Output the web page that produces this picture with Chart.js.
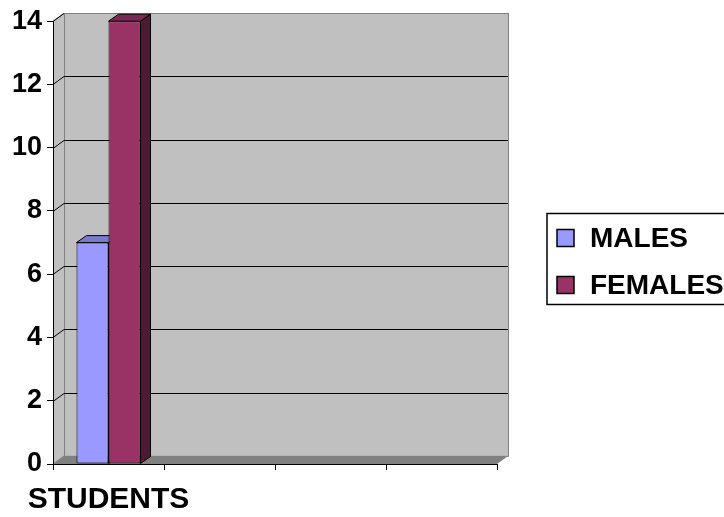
<!DOCTYPE html>
<html>
<head>
<meta charset="utf-8">
<script src="https://cdn.jsdelivr.net/npm/chart.js@4.4.1/dist/chart.umd.min.js"></script>
<style>
  html, body { margin: 0; padding: 0; background: #ffffff; overflow: hidden; }
  #wrap { width: 724px; height: 517px; }
</style>
</head>
<body>
<div id="wrap"><canvas id="chart" width="724" height="517"></canvas></div>
<script>
// Data
const categories = ['STUDENTS', '', '', ''];
const seriesNames = ['MALES', 'FEMALES'];
const males = [7, null, null, null];
const females = [14, null, null, null];
const yMin = 0;
const yMax = 14;
const yStep = 2;

// Styling
const FONT = '"Liberation Sans", Arial, sans-serif';
const FRONT = ['#9999FF', '#993366'];
const TOP = ['#7A7ACC', '#7A2952'];
const SIDE = ['#5C5C99', '#4D1A33'];
const WALL = { dx: 11, dy: -8 };
const DEPTH = { dx: 10, dy: -7 };

function poly(ctx, pts) {
  ctx.beginPath();
  ctx.moveTo(pts[0][0], pts[0][1]);
  for (let i = 1; i < pts.length; i++) ctx.lineTo(pts[i][0], pts[i][1]);
  ctx.closePath();
}

// Back wall, side wall, floor and the gridlines drawn on the back wall
const wallsPlugin = {
  id: 'walls',
  beforeDraw(chart) {
    const { ctx, chartArea: a, scales: { y } } = chart;
    const { dx, dy } = WALL;
    ctx.save();
    ctx.fillStyle = '#C0C0C0';
    poly(ctx, [[a.left, a.top], [a.left + dx, a.top + dy], [a.left + dx, a.bottom + dy], [a.left, a.bottom]]);
    ctx.fill();
    ctx.fillRect(a.left + dx, a.top + dy, a.right - a.left, a.bottom - a.top);
    ctx.fillStyle = '#808080';
    poly(ctx, [[a.left, a.bottom], [a.right, a.bottom], [a.right + dx, a.bottom + dy], [a.left + dx, a.bottom + dy]]);
    ctx.fill();

    ctx.lineWidth = 1;
    ctx.strokeStyle = '#808080';
    ctx.strokeRect(Math.round(a.left + dx) + 0.5, Math.round(a.top + dy) + 0.5, a.right - a.left, a.bottom - a.top);
    ctx.beginPath();
    ctx.moveTo(a.left, a.bottom); ctx.lineTo(a.left + dx, a.bottom + dy);
    ctx.moveTo(a.left, a.top); ctx.lineTo(a.left + dx, a.top + dy);
    ctx.stroke();

    ctx.strokeStyle = '#000000';
    ctx.beginPath();
    y.ticks.forEach(t => {
      if (t.value <= yMin) return;
      const py = Math.round(y.getPixelForValue(t.value)) + 0.5;
      if (t.value < yMax) {
        ctx.moveTo(a.left + dx, py + dy);
        ctx.lineTo(a.right + dx, py + dy);
      }
      ctx.moveTo(a.left, py);
      ctx.lineTo(a.left + dx, py + dy);
    });
    ctx.stroke();
    ctx.restore();
  },
  // top and side faces of each column, behind the front faces
  beforeDatasetsDraw(chart) {
    const { ctx } = chart;
    const { dx, dy } = DEPTH;
    ctx.save();
    ctx.lineWidth = 1;
    ctx.strokeStyle = '#000000';
    chart.data.datasets.forEach((ds, i) => {
      const meta = chart.getDatasetMeta(i);
      meta.data.forEach((bar, j) => {
        if (ds.data[j] == null) return;
        const { x, y, base, width } = bar.getProps(['x', 'y', 'base', 'width'], true);
        const l = x - width / 2, r = x + width / 2;
        ctx.fillStyle = SIDE[i];
        poly(ctx, [[r, y], [r + dx, y + dy], [r + dx, base + dy], [r, base]]);
        ctx.fill(); ctx.stroke();
        ctx.fillStyle = TOP[i];
        poly(ctx, [[l, y], [r, y], [r + dx, y + dy], [l + dx, y + dy]]);
        ctx.fill(); ctx.stroke();
      });
    });
    ctx.restore();
  }
};

// Boxed legend to the right of the plot (box runs past the right edge)
const boxLegendPlugin = {
  id: 'boxLegend',
  afterDraw(chart) {
    const { ctx } = chart;
    ctx.save();
    ctx.lineWidth = 1.5;
    ctx.strokeStyle = '#000000';
    ctx.strokeRect(547, 213.5, 300, 91);
    ctx.font = 'bold 28px ' + FONT;
    ctx.textBaseline = 'middle';
    ctx.textAlign = 'left';
    chart.data.datasets.forEach((ds, i) => {
      const cy = 238 + i * 47;
      ctx.fillStyle = ds.backgroundColor;
      ctx.fillRect(557, cy - 8.5, 17, 17);
      ctx.lineWidth = 1.5;
      ctx.strokeRect(557, cy - 8.5, 17, 17);
      ctx.fillStyle = '#000000';
      ctx.fillText(ds.label, 590, cy + 1);
    });
    ctx.restore();
  }
};

new Chart(document.getElementById('chart'), {
  type: 'bar',
  data: {
    labels: categories,
    datasets: [
      { label: seriesNames[0], data: males, backgroundColor: FRONT[0] },
      { label: seriesNames[1], data: females, backgroundColor: FRONT[1] }
    ]
  },
  options: {
    responsive: false,
    animation: false,
    devicePixelRatio: 1,
    layout: { padding: { top: 21, right: 227, bottom: 0, left: 0 } },
    datasets: {
      bar: {
        categoryPercentage: 0.577,
        barPercentage: 1,
        borderColor: '#000000',
        borderWidth: 1,
        borderSkipped: false
      }
    },
    plugins: {
      legend: { display: false },
      tooltip: { enabled: false }
    },
    scales: {
      x: {
        grid: { display: true, drawOnChartArea: false, drawTicks: true, tickLength: 6, color: '#000000', offset: true },
        border: { display: true, color: '#000000', width: 1 },
        ticks: { color: '#000000', font: { family: FONT, size: 30, weight: 'bold' }, padding: 12, maxRotation: 0, autoSkip: false },
        afterFit(s) { s.height = 53; }
      },
      y: {
        min: yMin,
        max: yMax,
        grid: { drawOnChartArea: false, drawTicks: true, tickLength: 6, color: '#000000' },
        border: { display: true, color: '#000000', width: 1 },
        ticks: { stepSize: yStep, color: '#000000', font: { family: FONT, size: 27, weight: 'bold' }, padding: 5 },
        afterFit(s) { s.width = 53; }
      }
    }
  },
  plugins: [wallsPlugin, boxLegendPlugin]
});
</script>
</body>
</html>
